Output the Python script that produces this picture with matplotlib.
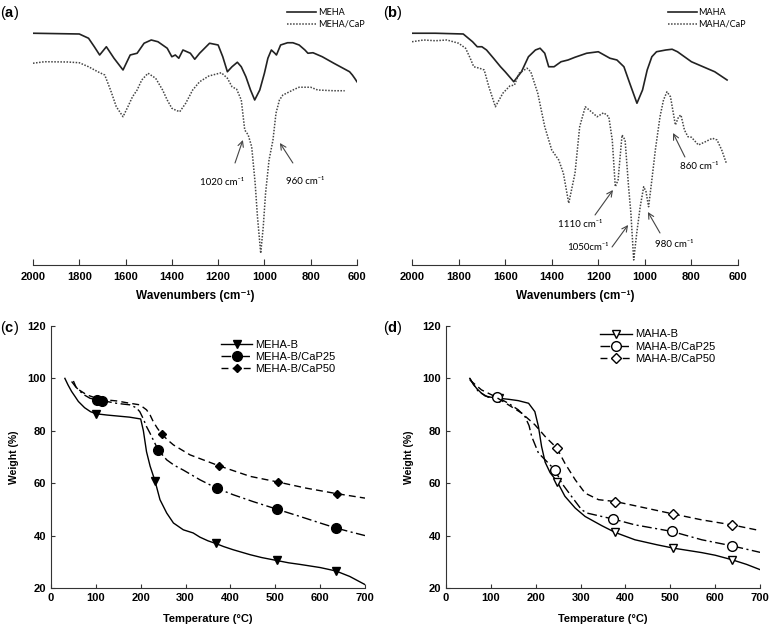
import numpy as np
import matplotlib
matplotlib.use('Agg')
from matplotlib import pyplot as plt

plt.rcParams['font.family'] = ['Liberation Sans', 'DejaVu Sans']
plt.rcParams['mathtext.fontset'] = 'custom'
plt.rcParams['mathtext.rm'] = 'Liberation Sans'
plt.rcParams['mathtext.bf'] = 'Liberation Sans:bold'

# ===== FTIR data (arbitrary transmittance units) =====
wn_meha = [2000, 1800, 1760, 1735, 1712, 1683, 1650, 1611, 1580, 1550, 1520, 1489, 1460, 1420,
           1400, 1385, 1370, 1352, 1320, 1301, 1280, 1237, 1200, 1180, 1160, 1140, 1117, 1100,
           1080, 1060, 1042, 1020, 1000, 985, 970, 955, 948, 930, 900, 877, 850, 825, 812, 790,
           750, 700, 660, 632, 620, 610, 600]
t_meha = [92.7, 92.4, 90.7, 87.3, 84.0, 87.3, 82.7, 78.0, 84.0, 84.7, 88.7, 90.0, 89.3, 86.7,
          83.3, 84.0, 82.7, 86.0, 84.7, 82.3, 84.7, 88.7, 88.0, 83.3, 77.3, 79.3, 81.1, 79.3,
          75.3, 70.0, 66.0, 70.0, 76.7, 82.7, 86.0, 84.7, 84.0, 88.0, 88.9, 88.9, 88.0, 86.0, 84.7, 84.9,
          83.3, 80.7, 78.7, 77.3, 76.0, 74.7, 73.3]

wn_meha_cap = [2000, 1950, 1850, 1800, 1760, 1720, 1690, 1665, 1640, 1611, 1590, 1570, 1550, 1530,
               1503, 1470, 1440, 1420, 1400, 1385, 1366, 1340, 1310, 1280, 1240, 1186, 1160, 1140,
               1120, 1100, 1085, 1070, 1055, 1040, 1030, 1016, 1005, 995, 980, 963, 950, 935, 920,
               900, 870, 850, 800, 770, 700, 653]
t_meha_cap = [80.7, 81.3, 81.2, 80.9, 79.3, 77.3, 76.0, 70.0, 63.3, 59.3, 63.3, 67.3, 70.0, 74.0,
              76.7, 74.7, 70.0, 66.0, 62.7, 62.0, 61.3, 64.7, 70.0, 73.3, 75.6, 76.9, 74.7, 71.3,
              70.3, 66.0, 54.0, 52.0, 47.3, 32.7, 19.3, 4.7, 15.3, 28.7, 42.0, 50.0, 60.7, 66.0, 68.0,
              68.9, 70.3, 71.1, 71.1, 70.0, 69.7, 69.7]

wn_maha = [2000, 1900, 1780, 1740, 1720, 1700, 1680, 1650, 1620, 1600, 1563, 1530, 1500, 1470,
           1450, 1430, 1413, 1390, 1360, 1330, 1300, 1250, 1200, 1175, 1150, 1120, 1090, 1065,
           1034, 1010, 990, 970, 950, 910, 883, 860, 830, 800, 750, 700, 647]
t_maha = [92.7, 92.7, 92.4, 89.3, 87.3, 87.3, 86.0, 82.7, 79.3, 77.3, 73.3, 77.3, 83.3, 86.0,
          86.7, 84.7, 79.3, 79.3, 81.3, 82.0, 83.1, 84.7, 85.3, 84.0, 82.7, 82.0, 79.3, 72.7,
          64.7, 70.0, 78.0, 83.3, 85.3, 86.0, 86.3, 85.3, 83.3, 81.3, 79.3, 77.3, 74.0]

wn_maha_cap = [2000, 1950, 1900, 1850, 1800, 1770, 1750, 1735, 1710, 1690, 1670, 1642, 1610, 1580,
               1560, 1540, 1506, 1490, 1460, 1430, 1400, 1370, 1350, 1327, 1300, 1280, 1256, 1230,
               1205, 1177, 1155, 1140, 1127, 1115, 1098, 1085, 1070, 1060, 1048, 1035, 1020, 1005,
               995, 984, 970, 955, 935, 920, 905, 890, 869, 855, 845, 830, 815, 800, 770, 740, 710,
               690, 670, 650]
t_maha_cap = [89.3, 90.0, 89.7, 90.0, 88.7, 86.7, 82.7, 79.3, 78.7, 78.0, 71.3, 63.3, 68.7, 71.6,
              72.0, 76.7, 78.7, 77.3, 68.7, 55.3, 46.0, 42.0, 36.7, 24.7, 36.7, 55.3, 63.3, 61.3,
              59.3, 60.9, 59.3, 50.0, 31.3, 34.0, 52.0, 50.0, 31.3, 20.7, 2.0, 12.7, 23.3, 31.3,
              29.3, 23.3, 34.0, 46.0, 59.3, 66.0, 69.3, 67.3, 56.0, 59.3, 60.0, 54.0, 51.3, 51.1, 48.0, 49.3, 50.7,
              50.0, 46.0, 40.7]

# ===== TGA data =====
T_meha_b = [31, 38, 46, 54, 61, 75, 88, 100, 125, 150, 175, 200, 206, 213, 221, 232, 243, 258, 273,
            295, 317, 332, 350, 367, 385, 406, 444, 470, 503, 530, 555, 600, 635, 666, 700]
W_meha_b = [100, 97.5, 95, 93, 91.2, 88.8, 87.3, 86.5, 86, 85.6, 85.2, 84.5, 80, 72, 66.5, 60.8,
            53.7, 48.6, 44.8, 42.2, 41, 39.4, 38, 37, 35.8, 34.6, 32.7, 31.6, 30.5, 29.6, 29, 27.8,
            26.5, 24.4, 21.3]
M_meha_b = [100, 232, 367, 503, 635]

T_meha_b25 = [46, 55, 65, 76, 87, 102, 113, 130, 146, 160, 176, 190, 198, 206, 213, 221, 228, 239,
              258, 275, 295, 332, 369, 406, 450, 503, 555, 600, 635, 670, 700]
W_meha_b25 = [98.8, 96.8, 95, 93.5, 92.4, 91.8, 91.5, 91, 90.5, 90.2, 89.9, 88.8, 87.3, 84.5, 81.6,
              79, 76.5, 72.7, 68.9, 66.8, 65, 61.3, 58.1, 55.6, 53, 50.1, 47.3, 44.8, 42.9, 41.3, 40]
M_meha_b25 = [102, 113, 239, 369, 503, 635]

T_meha_b50 = [50, 57, 68, 80, 95, 109, 146, 176, 198, 213, 221, 228, 237, 247, 260, 273, 310, 375,
              444, 507, 569, 637, 700]
W_meha_b50 = [99, 96.2, 95, 93.7, 92.8, 92, 91.4, 90.5, 89.9, 88, 86, 83.5, 81, 78.7, 76.5, 74.6,
              70.8, 66.6, 62.6, 60.4, 58.1, 56, 54.3]
M_meha_b50 = [247, 375, 507, 637]

T_maha_b = [53, 60, 68, 78, 87, 100, 118, 140, 161, 184, 198, 206, 213, 221, 232, 248, 265, 288,
            310, 347, 377, 421, 470, 507, 570, 600, 637, 670, 700]
W_maha_b = [100, 98, 96.2, 94.5, 93.3, 92.8, 92.4, 92, 91.5, 90.5, 87.3, 81.6, 74, 68, 64, 60.5,
            55, 50.5, 47.3, 43.8, 41.2, 38.4, 36.5, 35.2, 33.5, 32.5, 30.8, 29, 27]
M_maha_b = [118, 248, 377, 507, 637]

T_maha_b25 = [53, 60, 72, 94, 114, 139, 161, 176, 185, 191, 206, 221, 243, 258, 280, 302, 314, 347,
              373, 421, 503, 570, 637, 700]
W_maha_b25 = [100, 98, 95, 92.8, 92.8, 90.5, 88, 85.4, 82, 77.8, 71.5, 68.9, 65, 60, 54.9, 49.9,
              48.6, 47.3, 46.3, 44.1, 41.6, 38.4, 36.1, 33.6]
M_maha_b25 = [114, 243, 373, 503, 637]

T_maha_b50 = [53, 79, 109, 139, 169, 198, 221, 247, 265, 288, 310, 340, 377, 421, 505, 570, 637, 700]
W_maha_b50 = [99.4, 95.6, 93.1, 89.9, 86.7, 82.3, 77.8, 73.4, 67.6, 61.3, 56.2, 53.7, 53, 51.4,
              48.3, 46, 44.1, 41.9]
M_maha_b50 = [247, 377, 505, 637]


def idx(T, marks):
    return [i for i, t in enumerate(T) if t in marks]


fig = plt.figure(figsize=(7.71, 6.30), dpi=100)

# ===== FTIR panels =====
def ir_axes(rect):
    ax = fig.add_axes(rect)
    ax.set_xlim(2000, 600)
    ax.set_ylim(0, 100)
    for s in ['top', 'right', 'left']:
        ax.spines[s].set_visible(False)
    ax.spines['bottom'].set_color('#333333')
    ax.set_yticks([])
    ax.set_xticks(range(2000, 599, -200))
    ax.tick_params(axis='x', direction='in', length=4, color='#333333', labelsize=8, pad=5)
    for lab in ax.get_xticklabels():
        lab.set_fontweight('bold')
    ax.set_xlabel('Wavenumbers (cm⁻¹)', fontsize=8.5, fontweight='bold', labelpad=6)
    return ax

arrow = dict(arrowstyle='->', color='#444444', lw=0.8, shrinkA=0, shrinkB=0)
ann_font = dict(fontsize=7, family=['Lato', 'DejaVu Sans'], ha='center', va='center')

ax_a = ir_axes([0.0428, 0.5794, 0.4202, 0.3968])
ax_a.plot(wn_meha, t_meha, color='#222222', lw=1.2, label='MEHA')
ax_a.plot(wn_meha_cap, t_meha_cap, color='#444444', lw=1.1, linestyle=(0, (1, 1)), label='MEHA/CaP')
ax_a.annotate('', xy=(1093, 50), xytext=(1127, 40.8), arrowprops=arrow)
ax_a.text(1183, 32.8, '1020 cm⁻¹', **ann_font)
ax_a.annotate('', xy=(933, 48.8), xytext=(877, 40.8), arrowprops=arrow)
ax_a.text(825, 33.2, '960 cm⁻¹', **ann_font)
ax_a.legend(loc='upper left', bbox_to_anchor=(0.76, 1.06), frameon=False, handlelength=3.2,
            handletextpad=0.2, labelspacing=0.3, prop={'family': ['Lato', 'DejaVu Sans'], 'size': 6.5})

ax_b = ir_axes([0.5344, 0.5794, 0.4228, 0.3968])
ax_b.plot(wn_maha, t_maha, color='#222222', lw=1.2, label='MAHA')
ax_b.plot(wn_maha_cap, t_maha_cap, color='#444444', lw=1.1, linestyle=(0, (1, 1)), label='MAHA/CaP')
ax_b.annotate('', xy=(1137, 30), xytext=(1214, 20), arrowprops=arrow)
ax_b.text(1279, 16, '1110 cm⁻¹', **ann_font)
ax_b.annotate('', xy=(1072, 16), xytext=(1141, 7.2), arrowprops=arrow)
ax_b.text(1244, 6.8, '1050cm⁻¹', **ann_font)
ax_b.annotate('', xy=(987, 21.2), xytext=(935, 12.8), arrowprops=arrow)
ax_b.text(875, 8, '980 cm⁻¹', **ann_font)
ax_b.annotate('', xy=(879, 52.8), xytext=(828, 43.2), arrowprops=arrow)
ax_b.text(768, 39.2, '860 cm⁻¹', **ann_font)
ax_b.legend(loc='upper left', bbox_to_anchor=(0.76, 1.06), frameon=False, handlelength=3.2,
            handletextpad=0.2, labelspacing=0.3, prop={'family': ['Lato', 'DejaVu Sans'], 'size': 6.5})

# ===== TGA panels =====
def tga_axes(rect):
    ax = fig.add_axes(rect)
    ax.set_xlim(0, 700)
    ax.set_ylim(20, 120)
    for s in ['top', 'right']:
        ax.spines[s].set_visible(False)
    for s in ['left', 'bottom']:
        ax.spines[s].set_color('#333333')
    ax.set_xticks(range(0, 701, 100))
    ax.set_yticks(range(20, 121, 20))
    ax.tick_params(direction='in', length=3, color='#333333', labelsize=8)
    for lab in ax.get_xticklabels() + ax.get_yticklabels():
        lab.set_fontweight('bold')
    ax.set_xlabel('Temperature (°C)', fontsize=8, fontweight='bold', labelpad=8)
    ax.set_ylabel('Weight (%)', fontsize=7.5, fontweight='bold', labelpad=6)
    return ax

dashdot = (0, (7, 2.5, 1.5, 2.5))
dashed = (0, (5, 3))

ax_c = tga_axes([0.0661, 0.0667, 0.4073, 0.4159])
ax_c.plot(T_meha_b, W_meha_b, color='black', lw=1.0, marker='v', ms=5.5,
          markevery=idx(T_meha_b, M_meha_b), label='MEHA-B')
ax_c.plot(T_meha_b25, W_meha_b25, color='black', lw=1.0, linestyle=dashdot, marker='o', ms=7,
          markevery=idx(T_meha_b25, M_meha_b25), label='MEHA-B/CaP25')
ax_c.plot(T_meha_b50, W_meha_b50, color='black', lw=1.0, linestyle=dashed, marker='D', ms=4,
          markevery=idx(T_meha_b50, M_meha_b50), label='MEHA-B/CaP50')
ax_c.legend(loc='upper left', bbox_to_anchor=(0.51, 0.985), frameon=False, handlelength=2.8,
            handletextpad=0.3, labelspacing=0.2, fontsize=8)

ax_d = tga_axes([0.5785, 0.0667, 0.4073, 0.4159])
ax_d.plot(T_maha_b, W_maha_b, color='black', lw=1.0, marker='v', ms=5.5, mfc='white',
          markevery=idx(T_maha_b, M_maha_b), label='MAHA-B')
ax_d.plot(T_maha_b25, W_maha_b25, color='black', lw=1.0, linestyle=dashdot, marker='o', ms=7,
          mfc='white', markevery=idx(T_maha_b25, M_maha_b25), label='MAHA-B/CaP25')
ax_d.plot(T_maha_b50, W_maha_b50, color='black', lw=1.0, linestyle=dashed, marker='D', ms=5,
          mfc='white', markevery=idx(T_maha_b50, M_maha_b50), label='MAHA-B/CaP50')
ax_d.legend(loc='upper left', bbox_to_anchor=(0.46, 1.025), frameon=False, handlelength=2.8,
            handletextpad=0.3, labelspacing=0.2, fontsize=8)

# ===== panel labels =====
for x, y, l in [(0.0, 0.993, 'a'), (0.497, 0.993, 'b'), (0.0, 0.494, 'c'), (0.497, 0.494, 'd')]:
    fig.text(x, y, '($\\mathbf{' + l + '}$)', fontsize=10.5, va='top', ha='left')

plt.savefig('out.png', dpi=100)
